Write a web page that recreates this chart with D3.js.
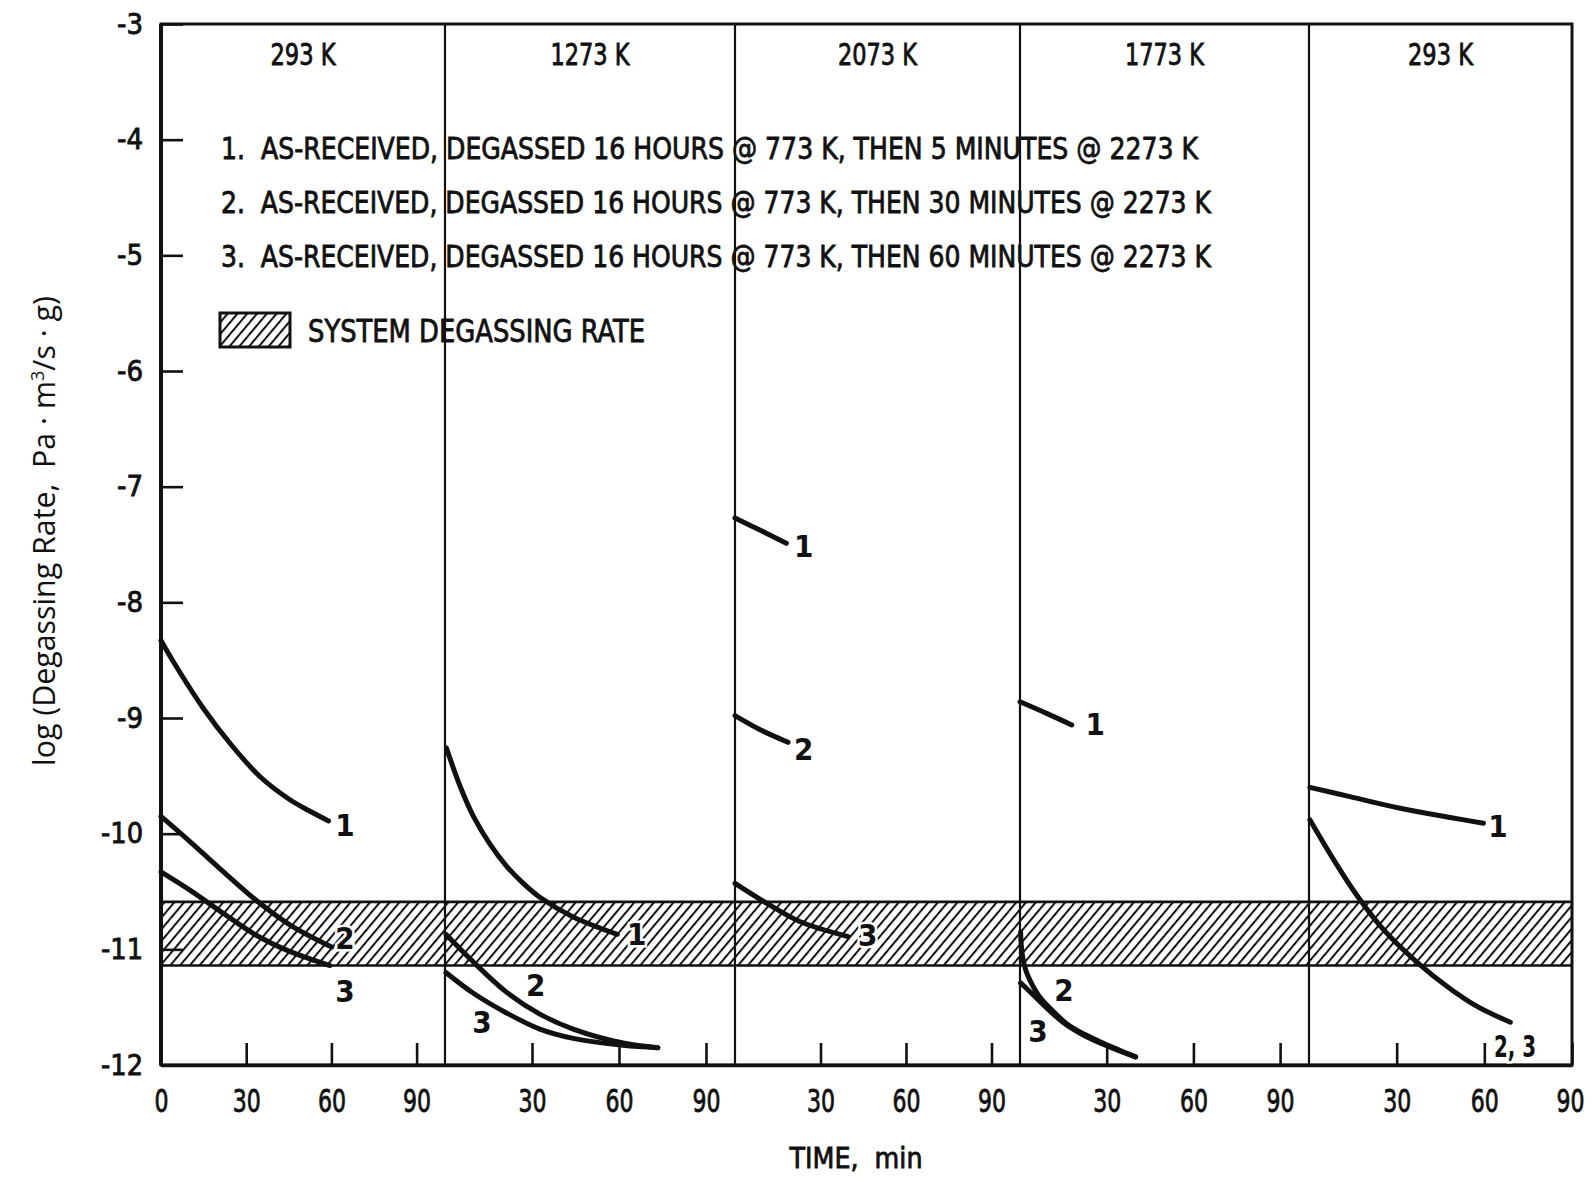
<!DOCTYPE html>
<html><head><meta charset="utf-8">
<script src="https://cdn.jsdelivr.net/npm/d3@7"></script>
<style>
html,body{margin:0;padding:0;background:#fff;}
svg{display:block;}
text{font-family:"Liberation Sans Narrow","DejaVu Sans Condensed","Arial Narrow",sans-serif;font-weight:normal;fill:#111;stroke:#111;stroke-width:0.8px;}
</style></head><body>
<svg id="chart" width="1592" height="1179"></svg>
<script>
// ---------- data ----------
const panelTitles = ["293 K", "1273 K", "2073 K", "1773 K", "293 K"];
const panelStarts = [0, 100, 200, 300, 400];      // minutes (cumulative)
const panelSpans  = [100, 100, 100, 100, 90];
const tickMinutes = [30, 60, 90];
const yTicks = [-3, -4, -5, -6, -7, -8, -9, -10, -11, -12];
const bandRange = [-10.59, -11.14];               // system degassing rate band

const legendItems = [
  "1.  AS-RECEIVED, DEGASSED 16 HOURS @ 773 K, THEN 5 MINUTES @ 2273 K",
  "2.  AS-RECEIVED, DEGASSED 16 HOURS @ 773 K, THEN 30 MINUTES @ 2273 K",
  "3.  AS-RECEIVED, DEGASSED 16 HOURS @ 773 K, THEN 60 MINUTES @ 2273 K"
];
const bandLegend = "SYSTEM DEGASSING RATE";

// panel 1 (293 K)
const p1c1 = [[0,-8.33],[5,-8.54],[15,-8.92],[25,-9.24],[35,-9.51],[45,-9.70],[52,-9.80],[59,-9.89]];
const p1c2 = [[0,-9.85],[10.3,-10.07],[22,-10.33],[33.7,-10.58],[45.5,-10.79],[60.1,-10.98]];
const p1c3 = [[0,-10.33],[10.3,-10.49],[22,-10.69],[33.7,-10.88],[45.5,-11.02],[59.5,-11.14]];
// panel 2 (1273 K)
const p2c1 = [[0.5,-9.26],[5.2,-9.59],[9.8,-9.85],[15.5,-10.09],[21.2,-10.28],[27,-10.43],[32.7,-10.55],[44.2,-10.72],[59.4,-10.87]];
const p2c2 = [[0.3,-10.87],[9.8,-11.11],[21.2,-11.37],[32.7,-11.56],[44.2,-11.69],[61.4,-11.81],[73.4,-11.85]];
const p2c3 = [[0.3,-11.2],[9.8,-11.38],[21.2,-11.55],[32.7,-11.69],[44.2,-11.77],[61.4,-11.83],[73.4,-11.85]];
// panel 3 (2073 K)
const p3c1 = [[0,-7.27],[8.7,-7.375],[18,-7.49]];
const p3c2 = [[0,-8.98],[8.7,-9.10],[18.6,-9.21]];
const p3c3 = [[0,-10.43],[11,-10.60],[22.7,-10.76],[39.7,-10.89]];
// panel 4 (1773 K)
const p4c1 = [[0,-8.86],[9.2,-8.96],[17.9,-9.06]];
const p4c2 = [[0.2,-10.85],[0.8,-11.05],[2,-11.18],[3.5,-11.27],[6.5,-11.40],[10.4,-11.51],[16.5,-11.65],[21.9,-11.73],[28.7,-11.81],[40,-11.93]];
const p4c3 = [[0.2,-11.29],[4,-11.38],[7.7,-11.47],[12,-11.57],[16.5,-11.66],[21.9,-11.74],[28.7,-11.82],[40,-11.93]];
// panel 5 (293 K)
const p5c1  = [[0.3,-9.60],[14,-9.68],[31.2,-9.78],[48.3,-9.86],[59.7,-9.91]];
const p5c23 = [[0.3,-9.88],[8.3,-10.22],[16.3,-10.53],[25.5,-10.83],[36.9,-11.11],[48.3,-11.34],[58,-11.50],[68.9,-11.63]];

const curves = [
  [0, p1c1], [0, p1c2], [0, p1c3],
  [1, p2c1], [1, p2c2], [1, p2c3],
  [2, p3c1], [2, p3c2], [2, p3c3],
  [3, p4c1], [3, p4c2], [3, p4c3],
  [4, p5c1], [4, p5c23]
];
// [panel, minute, log value, label]
const curveLabels = [
  [0,64.8,-9.925,"1"],[0,64.8,-10.90,"2"],[0,64.8,-11.36,"3"],
  [1,66.1,-10.87,"1"],[1,31.3,-11.31,"2"],[1,12.7,-11.63,"3"],
  [2,24.1,-7.51,"1"],[2,24.1,-9.27,"2"],[2,46.6,-10.88,"3"],
  [3,26,-9.05,"1"],[3,15.2,-11.35,"2"],[3,6.2,-11.71,"3"],
  [4,64.7,-9.93,"1"],[4,70.5,-11.84,"2, 3"]
];

// ---------- drawing ----------
const svg = d3.select("#chart");
const totalTime = panelStarts[4] + panelSpans[4];
const breaks = panelStarts.concat([totalTime]);
const x = d3.scaleLinear().domain(breaks).range([161, 445, 735, 1020, 1309, 1572]);
const y = d3.scaleLinear().domain([-3, -12]).range([24, 1065]);

const defs = svg.append("defs");
const pat = defs.append("pattern").attr("id","hatch").attr("patternUnits","userSpaceOnUse")
  .attr("width",7.5).attr("height",20).attr("patternTransform","rotate(40)");
pat.append("line").attr("x1",1).attr("y1",-2).attr("x2",1).attr("y2",22)
  .attr("stroke","#111").attr("stroke-width",2);

// band
const bandTop = y(bandRange[0]), bandBot = y(bandRange[1]);
svg.append("rect").attr("x",x(0)).attr("y",bandTop).attr("width",x(totalTime)-x(0))
  .attr("height",bandBot-bandTop).attr("fill","url(#hatch)");
[bandTop, bandBot].forEach(v => svg.append("line").attr("x1",x(0)).attr("x2",x(totalTime))
  .attr("y1",v).attr("y2",v).attr("stroke","#111").attr("stroke-width",2.6));

// panel dividers
panelStarts.slice(1).forEach(t => svg.append("line").attr("x1",x(t)).attr("x2",x(t))
  .attr("y1",y(-3)).attr("y2",y(-12)).attr("stroke","#111").attr("stroke-width",2.2));

// frame
svg.append("rect").attr("x",x(0)).attr("y",y(-3)).attr("width",x(totalTime)-x(0))
  .attr("height",y(-12)-y(-3)).attr("fill","none").attr("stroke","#111").attr("stroke-width",3);
svg.append("line").attr("x1",x(0)).attr("x2",x(0)).attr("y1",y(-3)).attr("y2",y(-12))
  .attr("stroke","#111").attr("stroke-width",4);

// axes
const yAxis = d3.axisLeft(y).tickValues(yTicks).tickFormat(d => String(d))
  .tickSizeInner(-22).tickSizeOuter(0).tickPadding(18);
const gy = svg.append("g").attr("transform",`translate(${x(0)},0)`).call(yAxis);
gy.select(".domain").remove();
gy.selectAll(".tick line").attr("stroke","#111").attr("stroke-width",2.6);
gy.selectAll(".tick text").attr("font-size",29).attr("font-family",null).style("fill","#111")
  .attr("textLength", function(){ return 10 + 16*(this.textContent.length-1); })
  .attr("lengthAdjust","spacingAndGlyphs");

const xTickTimes = [0], xTickLabels = ["0"];
panelStarts.forEach(s => tickMinutes.forEach(m => { xTickTimes.push(s+m); xTickLabels.push(String(m)); }));
const xAxis = d3.axisBottom(x).tickValues(xTickTimes).tickFormat((d,i) => xTickLabels[i])
  .tickSizeInner(-22).tickSizeOuter(0).tickPadding(24);
const gx = svg.append("g").attr("transform",`translate(0,${y(-12)})`).call(xAxis);
gx.select(".domain").attr("stroke","#111").attr("stroke-width",3.5);
gx.selectAll(".tick line").attr("stroke","#111").attr("stroke-width",2.6);
gx.selectAll(".tick text").attr("font-size",32).attr("font-family",null).style("fill","#111")
  .attr("textLength", function(){ return 14*this.textContent.length; })
  .attr("lengthAdjust","spacingAndGlyphs");
// keep the last label (right edge) fully inside the page
gx.selectAll(".tick text").filter(d => d === totalTime).attr("text-anchor","end").attr("x",12);

// curves
const line = d3.line().x(d => d[0]).y(d => d[1]).curve(d3.curveCatmullRom.alpha(0.5));
svg.append("g").selectAll("path").data(curves).join("path")
  .attr("d", c => line(c[1].map(p => [x(panelStarts[c[0]] + p[0]), y(p[1])])))
  .attr("fill","none").attr("stroke","#111").attr("stroke-width",5)
  .attr("stroke-linecap","round").attr("stroke-linejoin","round");

// curve labels
svg.append("g").selectAll("text").data(curveLabels).join("text")
  .attr("x", d => x(panelStarts[d[0]] + d[1])).attr("y", d => y(d[2]))
  .attr("text-anchor","middle").attr("dominant-baseline","central")
  .attr("font-size",31).style("font-weight","bold").style("stroke","#fff").style("stroke-width","5px")
  .attr("paint-order","stroke")
  .attr("textLength", d => d[3].length > 1 ? 42 : null).attr("lengthAdjust","spacingAndGlyphs")
  .text(d => d[3]);

// panel titles
svg.append("g").selectAll("text").data(panelTitles).join("text")
  .attr("x",(d,i) => (x(panelStarts[i]) + x(panelStarts[i]+panelSpans[i]))/2)
  .attr("y",65).attr("text-anchor","middle").attr("font-size",30)
  .attr("textLength", d => 14*(d.length-2) + 23).attr("lengthAdjust","spacingAndGlyphs")
  .text(d => d);

// legend
const legendWidths = [977, 990, 990];
svg.append("g").selectAll("text").data(legendItems).join("text")
  .attr("x",221).attr("y",(d,i) => 159 + i*54).attr("font-size",31)
  .style("white-space","pre")
  .attr("textLength",(d,i) => legendWidths[i]).attr("lengthAdjust","spacingAndGlyphs")
  .text(d => d);
svg.append("rect").attr("x",220).attr("y",313).attr("width",70).attr("height",34)
  .attr("fill","url(#hatch)").attr("stroke","#111").attr("stroke-width",3);
svg.append("text").attr("x",308).attr("y",342).attr("font-size",32)
  .attr("textLength",337).attr("lengthAdjust","spacingAndGlyphs").text(bandLegend);

// axis titles
svg.append("text").attr("x",856).attr("y",1168).attr("text-anchor","middle").attr("font-size",29)
  .attr("textLength",133).attr("lengthAdjust","spacingAndGlyphs").text("TIME,  min").style("white-space","pre");

const yt = svg.append("text").attr("transform","translate(55,531) rotate(-90)")
  .attr("text-anchor","middle").style("white-space","pre")
  .style("font-family","'Open Sans','Noto Sans',sans-serif").style("font-weight","normal")
  .style("stroke","none").attr("font-size",24);
yt.append("tspan").text("log (Degassing Rate,  Pa \u00b7 m");
yt.append("tspan").attr("dy",-11).attr("font-size",18).text("3");
yt.append("tspan").attr("dy",11).text("/s \u00b7 g)");
const len = yt.node().getComputedTextLength();
if (len > 0) yt.attr("font-size", 24 * 473 / len);
</script></body></html>
